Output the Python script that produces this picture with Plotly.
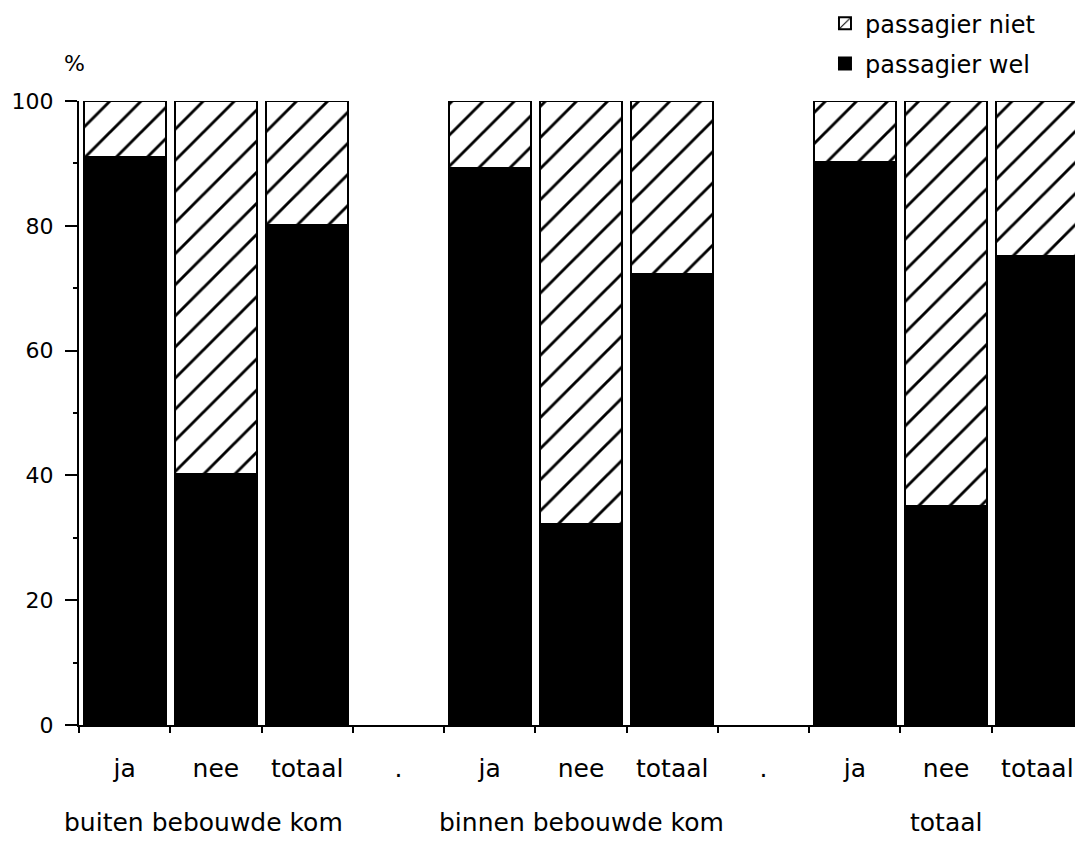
import plotly.graph_objects as go

# Data
slot_labels = ["ja", "nee", "totaal", ".", "ja", "nee", "totaal", ".", "ja", "nee", "totaal"]
group_labels = ["buiten bebouwde kom", "binnen bebouwde kom", "totaal"]
group_centers = [1, 5, 9]
passagier_wel = [91, 40.2, 80.2, None, 89.3, 32.2, 72.3, None, 90.2, 35.1, 75.2]
passagier_niet = [9, 59.8, 19.8, None, 10.7, 67.8, 27.7, None, 9.8, 64.9, 24.8]
y_ticks = [0, 20, 40, 60, 80, 100]

x_pos = list(range(len(slot_labels)))
FONT = "DejaVu Sans, Liberation Sans, Arial, sans-serif"

fig = go.Figure()
fig.add_trace(go.Bar(
    x=x_pos, y=passagier_wel, name="passagier wel", legendgroup="wel", legendrank=2,
    marker=dict(color="black", line=dict(color="black", width=2)),
))
fig.add_trace(go.Bar(
    x=x_pos, y=passagier_niet, name="passagier niet", legendgroup="niet", legendrank=1,
    marker=dict(color="white", line=dict(color="black", width=2),
                pattern=dict(shape="/", fgcolor="black", bgcolor="white", fgopacity=1,
                             fillmode="replace", size=22, solidity=0.13)),
))

label_shifts = [-12, 0, 0]
for lbl, cx, sh in zip(group_labels, group_centers, label_shifts):
    fig.add_annotation(x=cx, xref="x", y=-0.156, yref="paper", text=lbl, showarrow=False, xshift=sh,
                       font=dict(family=FONT, size=25, color="black"), xanchor="center", yanchor="middle")

fig.add_annotation(x=-0.004, xref="paper", y=1.06, yref="paper", text="%", showarrow=False,
                   xanchor="center", yanchor="middle",
                   font=dict(family=FONT, size=22, color="black"))

fig.update_layout(
    width=1075, height=835,
    margin=dict(l=71, r=0, t=93, b=118, autoexpand=False),
    barmode="stack", bargap=0.1,
    plot_bgcolor="white", paper_bgcolor="white",
    font=dict(family=FONT, size=25, color="black"),
    showlegend=True,
    legend=dict(x=0.743, y=1.16, xanchor="left", yanchor="top", traceorder="grouped",
                font=dict(family=FONT, size=24, color="black"), bgcolor="rgba(0,0,0,0)",
                tracegroupgap=6),
    xaxis=dict(range=[-0.5, 10.5], tickmode="array", tickvals=x_pos, ticktext=slot_labels,
               ticks="", showline=True, linecolor="black", linewidth=2, showgrid=False, zeroline=False,
               automargin=False, ticklabelstandoff=20,
               tickfont=dict(family=FONT, size=25, color="black"),
               minor=dict(ticks="outside", tick0=-0.5, dtick=1, ticklen=6, tickwidth=2, tickcolor="black")),
    yaxis=dict(range=[0, 100], tickmode="array", tickvals=y_ticks, ticks="outside", ticklen=12, tickwidth=2,
               tickcolor="black", showline=True, linecolor="black", linewidth=2, showgrid=False, zeroline=False,
               automargin=False, tickfont=dict(family=FONT, size=22, color="black"), ticklabelstandoff=7,
               minor=dict(ticks="outside", dtick=10, tick0=0, ticklen=4, tickwidth=2, tickcolor="black")),
)

fig.write_html("out.html")
